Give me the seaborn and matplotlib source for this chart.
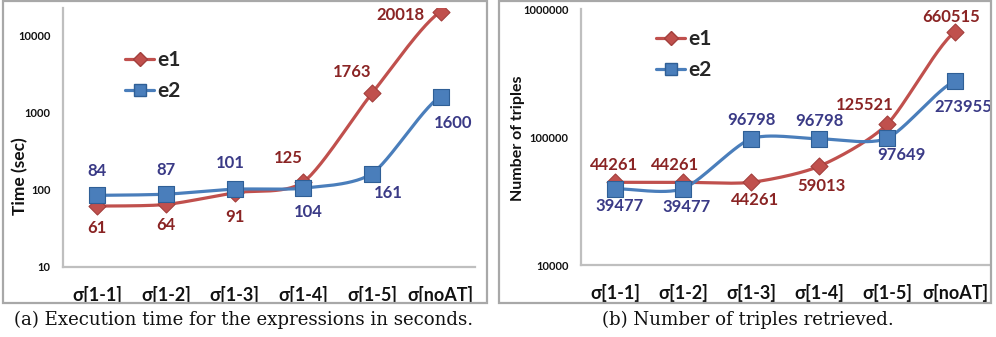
import numpy as np
import pandas as pd
import matplotlib
matplotlib.use("Agg")
import matplotlib.pyplot as plt
from matplotlib.patches import Rectangle
from matplotlib.lines import Line2D
import seaborn as sns

categories = ["σ[1-1]", "σ[1-2]", "σ[1-3]", "σ[1-4]", "σ[1-5]", "σ[noAT]"]
time_e1 = [61, 64, 91, 125, 1763, 20018]
time_e2 = [84, 87, 101, 104, 161, 1600]
triples_e1 = [44261, 44261, 44261, 59013, 125521, 660515]
triples_e2 = [39477, 39477, 96798, 96798, 97649, 273955]
time_ticks = [10, 100, 1000, 10000]
triples_ticks = [10000, 100000, 1000000]
caption_a = "(a) Execution time for the expressions in seconds."
caption_b = "(b) Number of triples retrieved."

sns.set_theme(style="white")
plt.rcParams['font.family'] = ['Lato', 'DejaVu Sans']

RED = "#C0504D"
BLUE = "#4A7EBB"
RED_EDGE = "#A33F3C"
BLUE_EDGE = "#2F5F96"
RED_TXT = "#8A2424"
BLUE_TXT = "#3A3A86"
GRID = "#BFBFBF"

fig = plt.figure(figsize=(9.96, 3.37), dpi=100)
W, H = 996, 337

def fr(x0, y0, x1, y1):
    return [x0 / W, (H - y1) / H, (x1 - x0) / W, (y1 - y0) / H]

# panel borders
for (x0, x1) in [(3, 487), (499, 991)]:
    fig.patches.append(Rectangle((x0 / W, (H - 303) / H), (x1 - x0) / W, 302 / H,
                                 transform=fig.transFigure, fill=False,
                                 edgecolor="#A8A8A8", linewidth=1.6))

def smooth(xs, ys, n=30):
    # Catmull-Rom in (x, log y) screen-like space
    x = np.asarray(xs, float)
    y = np.log10(np.asarray(ys, float))
    px = np.concatenate([[2 * x[0] - x[1]], x, [2 * x[-1] - x[-2]]])
    py = np.concatenate([[y[0]], y, [y[-1]]])
    outx, outy = [], []
    t = np.linspace(0, 1, n)
    for i in range(1, len(px) - 2):
        p0, p1, p2, p3 = [np.array([px[j], py[j]]) for j in (i - 1, i, i + 1, i + 2)]
        m1 = (p2 - p0) / 2 * 0.75
        m2 = (p3 - p1) / 2 * 0.75
        h00 = 2 * t**3 - 3 * t**2 + 1
        h10 = t**3 - 2 * t**2 + t
        h01 = -2 * t**3 + 3 * t**2
        h11 = t**3 - t**2
        seg = (np.outer(h00, p1) + np.outer(h10, m1) + np.outer(h01, p2) + np.outer(h11, m2))
        outx.extend(seg[:, 0]); outy.extend(seg[:, 1])
    return np.array(outx), 10 ** np.array(outy)

def panel(rect, e1, e2, ticks, ylim, ylabel, ylab_size, off1, off2, caption, cap_x, ylab_xy, leg_anchor):
    ax = fig.add_axes(rect)
    xs = np.arange(len(categories))
    for vals, col in [(e1, RED), (e2, BLUE)]:
        sx, sy = smooth(xs, vals)
        ax.plot(sx, sy, color=col, lw=2.3, zorder=2)
    d1 = pd.DataFrame({"x": xs, "v": e1})
    d2 = pd.DataFrame({"x": xs, "v": e2})
    sns.scatterplot(data=d1, x="x", y="v", marker="D", color=RED, s=75,
                    edgecolor=RED_EDGE, linewidth=0.8, ax=ax, legend=False, zorder=3)
    sns.scatterplot(data=d2, x="x", y="v", marker="s", color=BLUE, s=130,
                    edgecolor=BLUE_EDGE, linewidth=0.8, ax=ax, legend=False, zorder=3)
    ax.set_yscale("log")
    ax.set_ylim(*ylim)
    ax.set_xlim(-0.5, 5.5)
    ax.set_xticks(xs)
    ax.set_xticklabels(categories, fontsize=13, fontweight="bold", color="#111111")
    ax.set_yticks(ticks)
    ax.set_yticklabels([str(t) for t in ticks], fontsize=8, fontweight="bold", color="#111111")
    ax.minorticks_off()
    ax.tick_params(axis="x", pad=14, length=0)
    ax.tick_params(axis="y", pad=9, length=0)
    ax.set_xlabel("")
    ax.set_ylabel("")
    for s in ["top", "right"]:
        ax.spines[s].set_visible(False)
    for s in ["left", "bottom"]:
        ax.spines[s].set_color(GRID)
        ax.spines[s].set_linewidth(1.6)
    for i, v in enumerate(e1):
        dx, dy = off1[i]
        ax.annotate(str(v), (i, v), xytext=(dx * 0.72, -dy * 0.72), textcoords="offset points",
                    ha="center", va="center", fontsize=12, fontweight="bold", color=RED_TXT)
    for i, v in enumerate(e2):
        dx, dy = off2[i]
        ax.annotate(str(v), (i, v), xytext=(dx * 0.72, -dy * 0.72), textcoords="offset points",
                    ha="center", va="center", fontsize=12, fontweight="bold", color=BLUE_TXT)
    handles = [Line2D([], [], color=RED, lw=2.3, marker="D", ms=7, markeredgecolor=RED_EDGE),
               Line2D([], [], color=BLUE, lw=2.3, marker="s", ms=9, markeredgecolor=BLUE_EDGE)]
    ax.legend(handles, ["e1", "e2"], loc="upper left", bbox_to_anchor=leg_anchor,
              bbox_transform=fig.transFigure, frameon=False, handlelength=1.4,
              handletextpad=0.15, labelspacing=0.55, borderaxespad=0, borderpad=0,
              prop={"family": "Lato", "weight": "bold", "size": 15})
    fig.text(ylab_xy[0] / W, 1 - ylab_xy[1] / H, ylabel, rotation=90, ha="center", va="center",
             fontsize=ylab_size, fontweight="bold", color="#111111")
    fig.text(cap_x / W, 1 - 320 / H, caption, ha="center", va="center",
             fontsize=13.1, family="DejaVu Serif", color="#111111")
    return ax

off_a1 = [(0, 22), (0, 21), (0, 24), (-15, -24), (-20, -21), (-40, 3)]
off_a2 = [(0, -24), (0, -24), (-4, -26), (5, 24), (16, 19), (12, 26)]
off_b1 = [(-1, -17), (-8, -17), (4, 18), (2, 20), (-22, -19), (-4, -15)]
off_b2 = [(5, 17), (4, 18), (0, -19), (0, -18), (14, 17), (8, 26)]

panel(fr(63, 8, 475, 266.7), time_e1, time_e2, time_ticks, (10, 22440), "Time (sec)", 12.5,
      off_a1, off_a2, caption_a, 244, (20, 176), (125 / W, 1 - 50 / H))
panel(fr(581, 9, 989, 265), triples_e1, triples_e2, triples_ticks, (10000, 1000000),
      "Number of triples", 11.5, off_b1, off_b2, caption_b, 748, (518, 138), (656 / W, 1 - 29 / H))

fig.savefig("out.png", dpi=100)
